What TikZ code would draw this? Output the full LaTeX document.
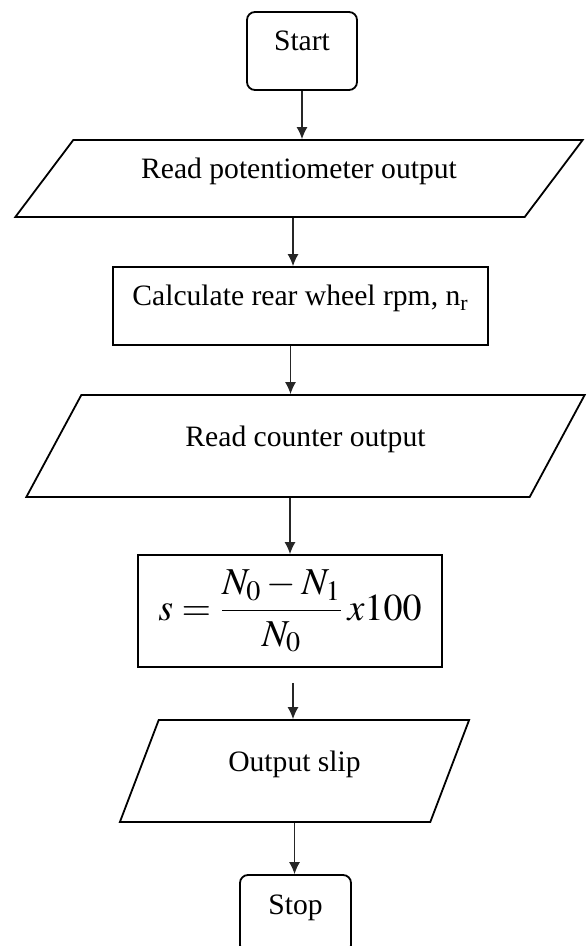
\documentclass[tikz,border=0pt]{standalone}
\usepackage{mathptmx}
\usepackage[no-math]{fontspec}
\setmainfont{Liberation Serif}
\usepackage{tikz}
\usetikzlibrary{shapes.geometric,arrows.meta,positioning,calc}

\begin{document}
\begin{tikzpicture}[x=0.5pt, y=-0.5pt,
    term_box/.style={draw, rounded corners=4pt, line width=0.9pt, minimum width=55pt, minimum height=39pt, text height=1.5ex, text depth=1.5ex, font=\fontsize{14.8}{17}\selectfont},
    proc_box/.style={draw, line width=0.9pt, minimum height=39pt, text height=1.5ex, text depth=1.5ex, font=\fontsize{14.8}{17}\selectfont},
    io_box/.style={trapezium, draw, line width=0.9pt, trapezium stretches=true, inner sep=0pt, text height=1.5ex, text depth=1.5ex, font=\fontsize{14.8}{17}\selectfont},
    flow/.style={-{Latex[length=6pt,width=5.5pt]}, line width=0.6pt, draw=black!85}
]
    \useasboundingbox (0,0) rectangle (586,946);

    % Nodes
    \node[term_box] (start) at (302,51) {Start};

    \node[io_box, trapezium left angle=34.2, trapezium right angle=145.8, minimum width=284pt, minimum height=38.5pt] (read_pot) at (299,178.5) {Read potentiometer output};

    \node[proc_box, minimum width=187.5pt] (calc_rpm) at (300.5,306) {Calculate rear wheel rpm, n\textsubscript{r}};

    \node[io_box, trapezium left angle=43.1, trapezium right angle=136.9, minimum width=279.5pt, minimum height=51pt] (read_count) at (305.5,446) {Read counter output};

    \node[proc_box, minimum width=152pt, minimum height=56pt, text height=, text depth=, font=\fontsize{19}{22}\selectfont] (slip_calc) at (290,611) {$s=\displaystyle\frac{N_0-N_1}{N_0}\,x100$};

    \node[io_box, trapezium left angle=55.5, trapezium right angle=124.5, minimum width=175.5pt, minimum height=51pt] (out_slip) at (294.5,771) {Output slip};

    \node[term_box, minimum width=55.5pt] (stop) at (295.5,914) {Stop};

    % Arrows
    \draw[flow] (start.south) -- (start.south |- read_pot.north);
    \draw[flow] ([xshift=-3pt]read_pot.south) -- ([xshift=-3pt]read_pot.south |- calc_rpm.north);
    \draw[flow] ([xshift=-5pt]calc_rpm.south) -- ([xshift=-5pt]calc_rpm.south |- read_count.north);
    \draw[flow] (slip_calc.north |- read_count.south) -- (slip_calc.north);
    \draw[flow, shorten <=7.5pt] ([xshift=1.5pt]slip_calc.south) -- ([xshift=1.5pt]slip_calc.south |- out_slip.north);
    \draw[flow] (out_slip.south) -- (out_slip.south |- stop.north);
\end{tikzpicture}
\end{document}
